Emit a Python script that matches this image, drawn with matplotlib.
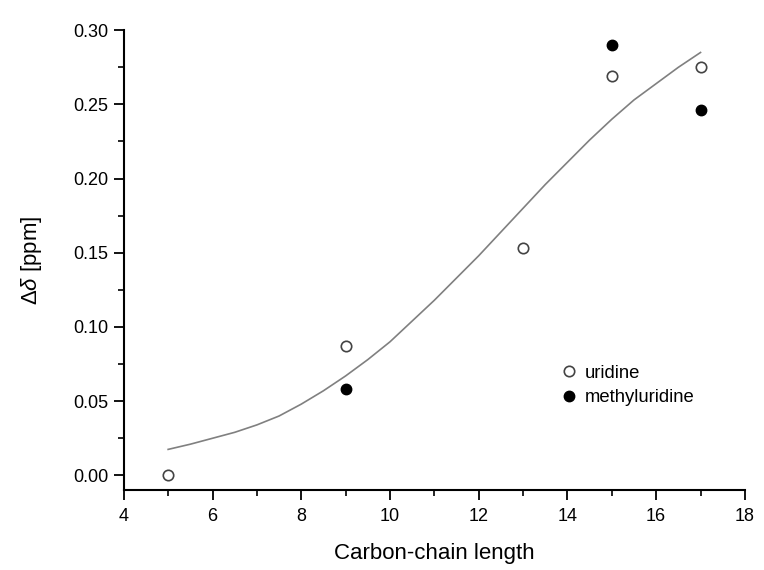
import matplotlib
matplotlib.use("Agg")
import matplotlib.pyplot as plt
from matplotlib.ticker import MultipleLocator, FormatStrFormatter

plt.rcParams['font.family'] = ['Liberation Sans', 'DejaVu Sans']
plt.rcParams['mathtext.fontset'] = 'custom'
plt.rcParams['mathtext.rm'] = 'Liberation Sans'
plt.rcParams['mathtext.it'] = 'Liberation Sans:italic'

# Data
uridine_x = [5, 9, 13, 15, 17]
uridine_y = [0.000, 0.087, 0.153, 0.269, 0.275]
methyl_x = [9, 15, 17]
methyl_y = [0.058, 0.290, 0.246]
fit_x = [5, 5.5, 6, 6.5, 7, 7.5, 8, 8.5, 9, 9.5, 10, 10.5, 11, 11.5, 12,
         12.5, 13, 13.5, 14, 14.5, 15, 15.5, 16, 16.5, 17]
fit_y = [0.0175, 0.021, 0.025, 0.029, 0.034, 0.040, 0.048, 0.057, 0.067, 0.078,
         0.090, 0.104, 0.118, 0.133, 0.148, 0.164, 0.180, 0.196, 0.211, 0.226,
         0.240, 0.253, 0.264, 0.275, 0.285]

fig = plt.figure(figsize=(7.64, 5.70), dpi=100)
ax = fig.add_axes([0.162, 0.140, 0.813, 0.807])

ax.plot(fit_x, fit_y, color='#808080', lw=1.2, zorder=2)
ax.plot(uridine_x, uridine_y, 'o', mfc='white', mec='#444444', mew=1.2, ms=7.5,
        ls='none', label='uridine', zorder=3)
ax.plot(methyl_x, methyl_y, 'o', mfc='black', mec='black', ms=7.5,
        ls='none', label='methyluridine', zorder=3)

ax.set_xlim(4, 18)
ax.set_ylim(-0.01, 0.30)
ax.xaxis.set_major_locator(MultipleLocator(2))
ax.xaxis.set_minor_locator(MultipleLocator(1))
ax.yaxis.set_major_locator(MultipleLocator(0.05))
ax.yaxis.set_minor_locator(MultipleLocator(0.025))
ax.yaxis.set_major_formatter(FormatStrFormatter('%.2f'))

for s in ['top', 'right']:
    ax.spines[s].set_visible(False)
for s in ['left', 'bottom']:
    ax.spines[s].set_linewidth(1.5)

ax.tick_params(which='major', direction='out', length=7, width=1.3, labelsize=13, colors='black')
ax.tick_params(which='minor', direction='out', length=4, width=1.2)
ax.tick_params(axis='x', which='major', pad=6)
ax.tick_params(axis='y', which='major', pad=4)

ax.set_xlabel('Carbon-chain length', fontsize=16, labelpad=13)
ax.set_ylabel(r'$\Delta\mathit{\delta}$ [ppm]', fontsize=16, labelpad=21)

ax.legend(loc='center left', bbox_to_anchor=(13.83, 0.0606), bbox_transform=ax.transData,
          frameon=False, fontsize=13.3, borderpad=0, handletextpad=0.35,
          labelspacing=0.4, handlelength=1.0, borderaxespad=0)

fig.savefig('out.png', dpi=100)
